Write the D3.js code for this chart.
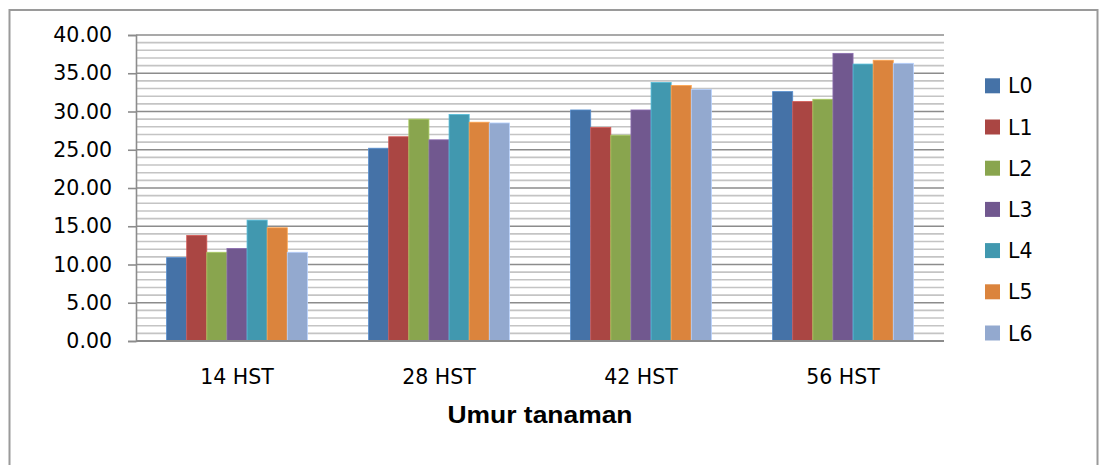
<!DOCTYPE html>
<html>
<head>
<meta charset="utf-8">
<script src="https://cdn.jsdelivr.net/npm/d3@7"></script>
<style>
  html, body { margin: 0; padding: 0; background: #fff; }
  svg { display: block; }
</style>
</head>
<body>
<svg id="chart" width="1100" height="465"></svg>
<script>
const categories = ["14 HST", "28 HST", "42 HST", "56 HST"];
const seriesNames = ["L0", "L1", "L2", "L3", "L4", "L5", "L6"];
const L0 = [10.9, 25.2, 30.2, 32.6];
const L1 = [13.8, 26.7, 27.9, 31.3];
const L2 = [11.6, 29.0, 26.9, 31.6];
const L3 = [12.1, 26.3, 30.2, 37.6];
const L4 = [15.8, 29.6, 33.8, 36.2];
const L5 = [14.8, 28.6, 33.4, 36.7];
const L6 = [11.6, 28.5, 32.9, 36.3];
const seriesValues = [L0, L1, L2, L3, L4, L5, L6];
const colors = ["#4572A7", "#AA4643", "#89A54E", "#71588F", "#4198AF", "#DB843D", "#93A9CF"];
const yTicks = [0, 5, 10, 15, 20, 25, 30, 35, 40];
const xTitle = "Umur tanaman";

const svg = d3.select("#chart");
const font = "'DejaVu Sans', sans-serif";

// outer frame
svg.append("rect").attr("x", 9.5).attr("y", 10).attr("width", 1088).attr("height", 470)
  .attr("fill", "none").attr("stroke", "#9a9a9a").attr("stroke-width", 2);

const plot = { left: 136, right: 944, top: 35, bottom: 341 };

const y = d3.scaleLinear().domain([0, 40]).range([plot.bottom, plot.top]);
const x0 = d3.scaleBand().domain(categories).range([plot.left, plot.right])
  .paddingInner(0.303).paddingOuter(0.1515);
const x1 = d3.scaleBand().domain(seriesNames).range([0, x0.bandwidth()]);

// minor gridlines
const minor = d3.range(0, 41, 1).filter(v => v % 5 !== 0);
svg.append("g").selectAll("line").data(minor).join("line")
  .attr("x1", plot.left).attr("x2", plot.right)
  .attr("y1", d => y(d)).attr("y2", d => y(d))
  .attr("stroke", "#c4c4c4").attr("stroke-width", 1.6);

// major gridlines
svg.append("g").selectAll("line").data(yTicks.filter(v => v > 0)).join("line")
  .attr("x1", plot.left).attr("x2", plot.right)
  .attr("y1", d => y(d)).attr("y2", d => y(d))
  .attr("stroke", "#8c8c8c").attr("stroke-width", 1.6);

// bars
const groups = svg.append("g").selectAll("g").data(categories).join("g")
  .attr("transform", d => `translate(${x0(d)},0)`);
groups.selectAll("rect")
  .data((c, ci) => seriesNames.map((s, si) => ({ s, si, v: seriesValues[si][ci] })))
  .join("rect")
  .attr("x", d => x1(d.s))
  .attr("y", d => y(d.v))
  .attr("width", x1.bandwidth())
  .attr("height", d => y(0) - y(d.v))
  .attr("fill", d => colors[d.si])
  .attr("stroke", d => d3.color(colors[d.si]).brighter(0.6))
  .attr("stroke-width", 0.8);

// y axis
const yAxis = d3.axisLeft(y).tickValues(yTicks).tickSize(8).tickPadding(16)
  .tickFormat(d3.format(".2f"));
const yg = svg.append("g").attr("transform", `translate(${plot.left},0)`).call(yAxis);
yg.select(".domain").attr("stroke", "#8c8c8c").attr("stroke-width", 1.6);
yg.selectAll(".tick line").attr("stroke", "#8c8c8c").attr("stroke-width", 1.6);
yg.selectAll(".tick text").attr("font-family", font).attr("font-size", 20.5).attr("fill", "#000");

// x axis
const xAxis = d3.axisBottom(x0).tickSize(0).tickPadding(28);
const xg = svg.append("g").attr("transform", `translate(0,${plot.bottom})`).call(xAxis);
xg.select(".domain").attr("d", `M${plot.left},0H${plot.right}`)
  .attr("stroke", "#8c8c8c").attr("stroke-width", 1.8);
xg.selectAll(".tick text").attr("font-family", font).attr("font-size", 20.5).attr("fill", "#000");

// x title
svg.append("text").attr("x", (plot.left + plot.right) / 2).attr("y", 423)
  .attr("text-anchor", "middle").attr("font-family", "'Liberation Sans', Arial, sans-serif")
  .attr("font-weight", "bold").attr("font-size", 23.5).attr("fill", "#000")
  .attr("textLength", 185).attr("lengthAdjust", "spacingAndGlyphs").text(xTitle);

// legend
const legend = svg.append("g").selectAll("g").data(seriesNames).join("g")
  .attr("transform", (d, i) => `translate(985,${78.3 + i * 41.2})`);
legend.append("rect").attr("width", 15).attr("height", 15).attr("fill", (d, i) => colors[i]);
legend.append("text").attr("x", 23).attr("y", 15).attr("font-family", font)
  .attr("font-size", 20.5).attr("fill", "#000").text(d => d);
</script>
</body>
</html>
